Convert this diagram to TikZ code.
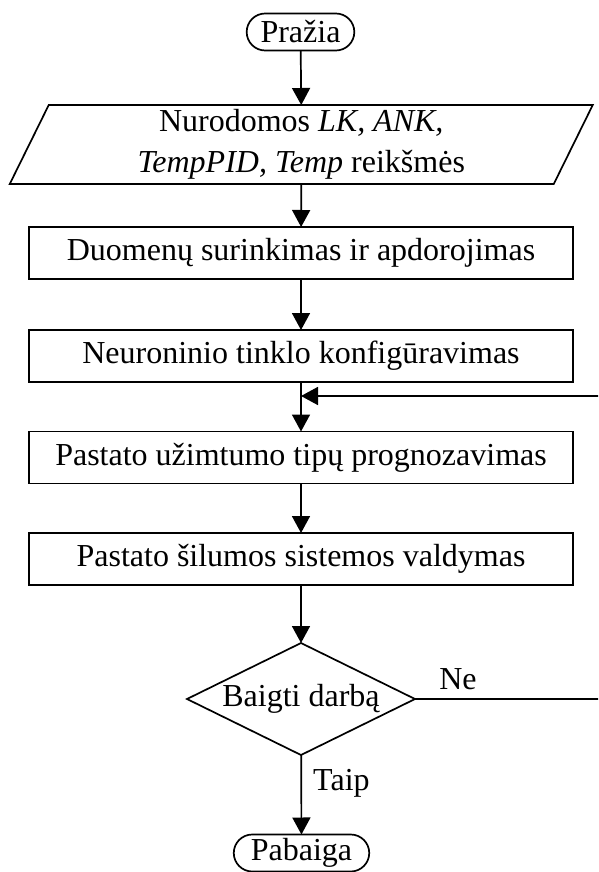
\documentclass[tikz,border=0pt]{standalone}
\usepackage{fontspec}
\setmainfont{Liberation Serif}
\usetikzlibrary{arrows.meta,shapes.geometric,shapes.misc,calc}

\begin{document}
\begin{tikzpicture}[x=1pt,y=-1pt,
  font=\fontsize{32}{41}\selectfont,
  line/.style={line width=1.7pt},
  arrow/.style={line, -{Triangle[width=18pt,length=17pt]}},
  stepbox/.style={draw, line width=1.7pt, rectangle, minimum width=544pt,
    minimum height=52pt, inner sep=0pt, outer sep=0pt},
  term/.style={draw, line width=1.7pt, rounded rectangle, inner xsep=10pt,
    minimum height=37pt, inner ysep=0pt, outer sep=0pt},
  iobox/.style={rectangle, minimum width=544pt, minimum height=79pt,
    inner sep=0pt, outer sep=0pt, align=center},
  decision/.style={draw, line width=1.7pt, diamond, aspect=2.04,
    minimum width=228pt, minimum height=112pt, inner sep=0pt, outer sep=0pt},
  lbl/.style={inner sep=0pt}
]
\useasboundingbox (0,0) rectangle (598,872);
\clip (0,0) rectangle (598,872);

% start / end terminals
\node[term] (start) at (300.5,32) {Pražia};
\node[term] (stop) at (301.5,853) {Pabaiga};

% input parallelogram
\node[iobox] (in) at (301.25,144.5)
  {Nurodomos \textit{LK, ANK,}\\ \textit{TempPID, Temp} reikšmės};
\draw[line] ([xshift=19.5pt]in.north west) -- ([xshift=19.5pt]in.north east)
  -- ([xshift=-19.5pt]in.south east) -- ([xshift=-19.5pt]in.south west) -- cycle;

% process steps
\node[stepbox] (s1) at (301,253) {Duomenų surinkimas ir apdorojimas};
\node[stepbox] (s2) at (301,356) {Neuroninio tinklo konfigūravimas};
\node[stepbox] (s3) at (301,457.5) {Pastato užimtumo tipų prognozavimas};
\node[stepbox] (s4) at (301,559) {Pastato šilumos sistemos valdymas};

% decision
\node[decision] (dec) at (301,699) {};
\node at (301,699) {Baigti darbą};

% helper points of the return loop
\coordinate (join) at (301,396);
\coordinate (loopx) at (604,0);

% connectors
\draw[arrow] (start) -- (in.north);
\draw[arrow] (in.south) -- (s1);
\draw[arrow] (s1) -- (s2);
\draw[arrow] (s2) -- (s3);
\draw[arrow] (s3) -- (s4);
\draw[arrow] (s4) -- (dec);
\draw[arrow] (dec) -- (stop);
\draw[line] (dec.east) -- (dec.east -| loopx) -- (join -| loopx);
\draw[arrow] (join -| loopx) -- (join);

% branch labels
\node[lbl] (ne) at (458,679) {Ne};
\node[lbl, anchor=west] (taip) at (313,783) {Taip};
\end{tikzpicture}
\end{document}
